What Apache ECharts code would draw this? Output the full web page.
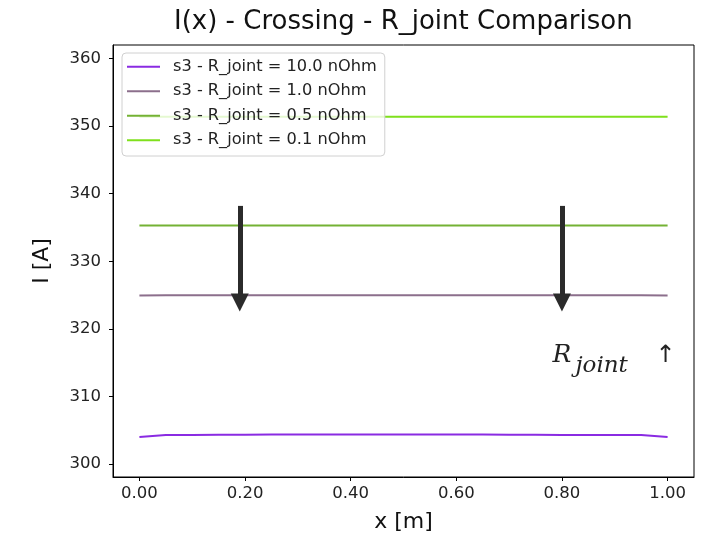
<!DOCTYPE html>
<html>
<head>
<meta charset="utf-8">
<script src="https://cdn.jsdelivr.net/npm/echarts@6/dist/echarts.min.js"></script>
<style>
  html, body { margin: 0; padding: 0; background: #fff; }
  #chart { width: 706px; height: 540px; }
</style>
</head>
<body>
<div id="chart"></div>
<script>
// x positions along the crossing [m]
const xs = [0.00, 0.05, 0.10, 0.15, 0.20, 0.25, 0.30, 0.35, 0.40, 0.45, 0.50,
            0.55, 0.60, 0.65, 0.70, 0.75, 0.80, 0.85, 0.90, 0.95, 1.00];

const names = ['s3 - R_joint = 10.0 nOhm', 's3 - R_joint = 1.0 nOhm',
               's3 - R_joint = 0.5 nOhm', 's3 - R_joint = 0.1 nOhm'];
const colors = ['#8a2be2', '#8c6f8c', '#74b234', '#7fe01c'];

// current I(x) [A]
const i10 = [304.0, 304.3, 304.3, 304.35, 304.35, 304.4, 304.4, 304.4, 304.4, 304.4, 304.4,
             304.4, 304.4, 304.4, 304.35, 304.35, 304.3, 304.3, 304.3, 304.3, 304.0];
const i1  = [324.95, 325.0, 325.0, 325.0, 325.0, 325.0, 325.0, 325.0, 325.0, 325.0, 325.0,
             325.0, 325.0, 325.0, 325.0, 325.0, 325.0, 325.0, 325.0, 325.0, 324.95];
const i05 = [335.3, 335.3, 335.3, 335.3, 335.3, 335.3, 335.3, 335.3, 335.3, 335.3, 335.3,
             335.3, 335.3, 335.3, 335.3, 335.3, 335.3, 335.3, 335.3, 335.3, 335.3];
const i01 = [351.4, 351.4, 351.4, 351.4, 351.4, 351.4, 351.4, 351.4, 351.4, 351.4, 351.4,
             351.4, 351.4, 351.4, 351.4, 351.4, 351.4, 351.4, 351.4, 351.4, 351.4];
const seriesData = [i10, i1, i05, i01];

// tick labels
const xTicks = [0, 0.2, 0.4, 0.6, 0.8, 1.0];
const yTicks = [300, 310, 320, 330, 340, 350, 360];

// downward arrows (x, y from, y to)
const arrowX = [0.19, 0.80];
const arrowFrom = 338.2;
const arrowTo = 323.9;

// where the R_joint note sits (left of R, on its baseline)
const noteAt = [0.782, 315.1];

const font = 'DejaVu Sans';

const series = seriesData.map((d, k) => ({
  name: names[k],
  type: 'line',
  data: xs.map((x, j) => [x, d[j]]),
  symbol: 'none',
  lineStyle: { color: colors[k], width: 2 },
  itemStyle: { color: colors[k] },
  z: 2
}));

// arrows drawn as markLines on an empty helper series
series.push({
  type: 'line',
  data: [],
  z: 5,
  markLine: {
    silent: true,
    symbol: ['none', 'triangle'],
    symbolSize: [18, 18],
    lineStyle: { color: '#2b2b2b', width: 5, type: 'solid' },
    label: { show: false },
    data: arrowX.map(x => [{ coord: [x, arrowFrom] }, { coord: [x, arrowTo] }])
  }
});

const chart = echarts.init(document.getElementById('chart'));
chart.setOption({
  animation: false,
  backgroundColor: '#fff',
  textStyle: { fontFamily: font },
  title: {
    text: 'I(x) - Crossing - R_joint Comparison',
    left: 169, top: 4,
    textStyle: { fontFamily: font, fontSize: 26, fontWeight: 'normal', color: '#111' }
  },
  legend: {
    orient: 'vertical',
    left: 122, top: 53,
    padding: [4, 8, 6, 5],
    itemGap: 5,
    itemWidth: 33, itemHeight: 2,
    icon: 'rect',
    backgroundColor: 'rgba(255,255,255,0.8)',
    borderColor: '#d0d0d0', borderWidth: 1, borderRadius: 4,
    data: names,
    textStyle: { fontFamily: font, fontSize: 16.2, color: '#222', lineHeight: 19.5,
                 padding: [0, 0, 0, 8] }
  },
  grid: {
    left: 113, right: 12, top: 45, bottom: 63,
    show: true, borderColor: '#000', borderWidth: 1
  },
  xAxis: {
    type: 'value',
    min: -0.05, max: 1.05,
    name: 'x [m]', nameLocation: 'middle', nameGap: 34,
    nameTextStyle: { fontFamily: font, fontSize: 22, color: '#111' },
    axisLine: { show: true, onZero: false, lineStyle: { color: '#000', width: 1 } },
    axisTick: { show: true, length: 4, lineStyle: { color: '#000' }, customValues: xTicks },
    axisLabel: { customValues: xTicks, margin: 8, fontSize: 16.5, color: '#222',
                 formatter: v => v.toFixed(2) },
    splitLine: { show: false }
  },
  yAxis: {
    type: 'value',
    min: 298.1, max: 362.0,
    name: 'I [A]', nameLocation: 'middle', nameGap: 60, nameRotate: 90,
    nameTextStyle: { fontFamily: font, fontSize: 22, color: '#111' },
    axisLine: { show: true, onZero: false, lineStyle: { color: '#000', width: 1 } },
    axisTick: { show: true, length: 4, lineStyle: { color: '#000' }, customValues: yTicks },
    axisLabel: { customValues: yTicks, margin: 12, fontSize: 16.5, color: '#222' },
    splitLine: { show: false }
  },
  series: series
});

// R_joint annotation, pieces placed from the anchor point
const q = chart.convertToPixel({ gridIndex: 0 }, noteAt);
const piece = (txt, dx, size, dy, fam, style) => ({
  type: 'text',
  x: q[0] + dx, y: q[1] - 0.245 * size + dy,
  style: {
    text: txt, fontFamily: fam, fontStyle: style, fontSize: size,
    fill: '#222', textVerticalAlign: 'middle'
  }
});
chart.setOption({
  graphic: [
    piece('R', 0, 25, 0, 'DejaVu Serif', 'italic'),
    piece('joint', 23, 23, 10, 'DejaVu Serif', 'italic'),
    piece('↑', 103, 24, 0, 'DejaVu Sans', 'normal')
  ]
});
</script>
</body>
</html>
